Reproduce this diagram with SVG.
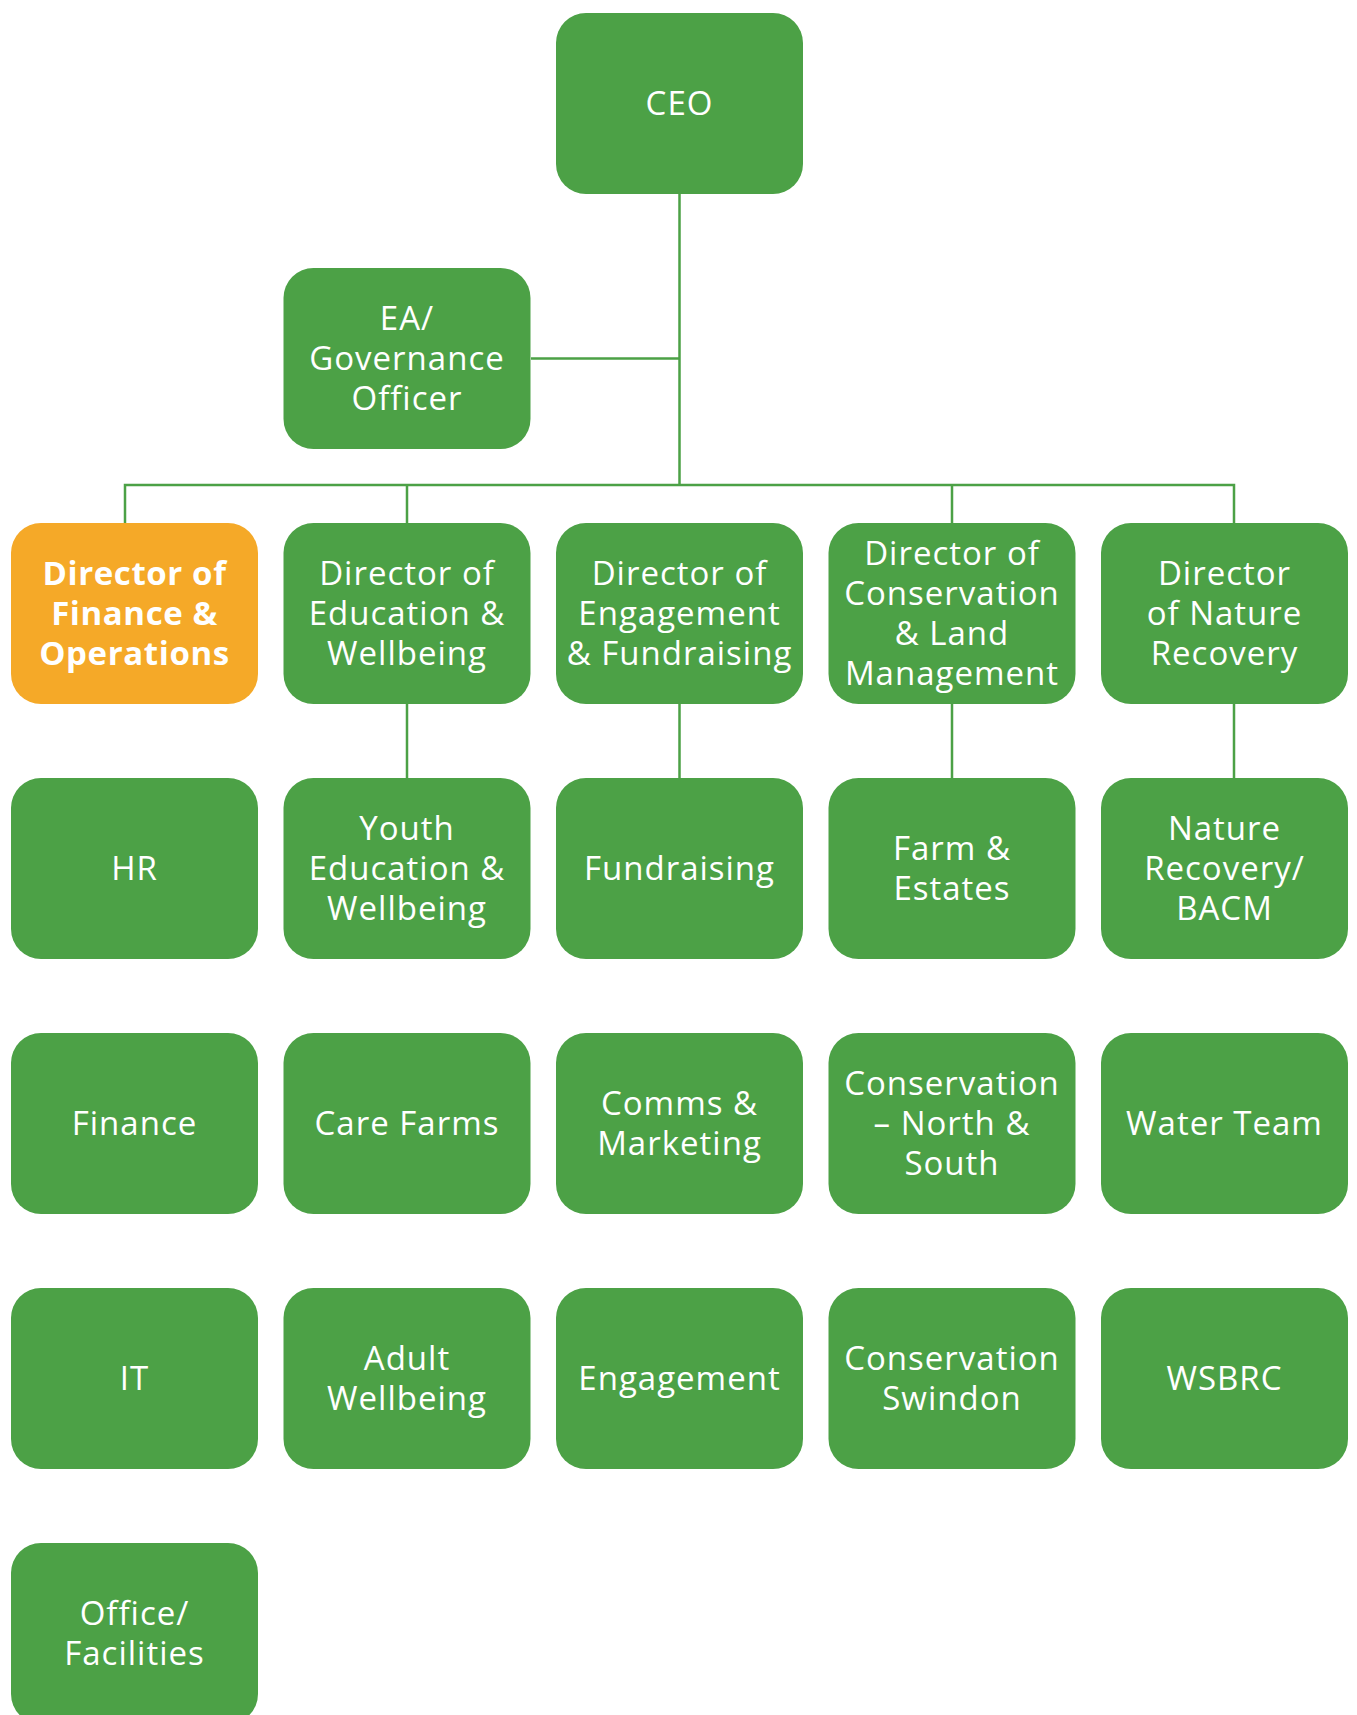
<svg xmlns="http://www.w3.org/2000/svg" width="1357" height="1715" viewBox="0 0 1357 1715">
<style>
.box{fill:#4CA146;}
.hl{fill:#F5A928;}
.t{font-family:"Open Sans","Liberation Sans",sans-serif;font-size:33px;fill:#fff;text-anchor:middle;letter-spacing:1px;}
.b{font-weight:bold;letter-spacing:0.6px;}
.ln{stroke:#4CA146;stroke-width:2.5;fill:none;}
</style>
<rect width="1357" height="1715" fill="#fff"/>
<g id="connectors">
<path class="ln" d="M679.5 193.5V485M531 358.5H679.5M125 523V485H1234V523M407 485V523M952 485V523M407 703V778M679.5 703V778M952 703V778M1234 703V778"/>
</g>
<g id="ceo"><rect class="box" x="556" y="13" width="247" height="181" rx="30"/><text class="t" x="679.5" y="115">CEO</text></g>
<g id="ea"><rect class="box" x="283.5" y="268" width="247" height="181" rx="30"/><text class="t" x="407" y="330">EA/</text><text class="t" x="407" y="370">Governance</text><text class="t" x="407" y="410">Officer</text></g>
<g id="dir-finance"><rect class="hl" x="11" y="523" width="247" height="181" rx="30"/><text class="t b" x="134.5" y="585">Director of</text><text class="t b" x="134.5" y="625">Finance &amp;</text><text class="t b" x="134.5" y="665">Operations</text></g>
<g id="dir-education"><rect class="box" x="283.5" y="523" width="247" height="181" rx="30"/><text class="t" x="407" y="585">Director of</text><text class="t" x="407" y="625">Education &amp;</text><text class="t" x="407" y="665">Wellbeing</text></g>
<g id="dir-engagement"><rect class="box" x="556" y="523" width="247" height="181" rx="30"/><text class="t" x="679.5" y="585">Director of</text><text class="t" x="679.5" y="625">Engagement</text><text class="t" x="679.5" y="665">&amp; Fundraising</text></g>
<g id="dir-conservation"><rect class="box" x="828.5" y="523" width="247" height="181" rx="30"/><text class="t" x="952" y="565">Director of</text><text class="t" x="952" y="605">Conservation</text><text class="t" x="952" y="645">&amp; Land</text><text class="t" x="952" y="685">Management</text></g>
<g id="dir-nature"><rect class="box" x="1101" y="523" width="247" height="181" rx="30"/><text class="t" x="1224.5" y="585">Director</text><text class="t" x="1224.5" y="625">of Nature</text><text class="t" x="1224.5" y="665">Recovery</text></g>
<g id="hr"><rect class="box" x="11" y="778" width="247" height="181" rx="30"/><text class="t" x="134.5" y="880">HR</text></g>
<g id="youth"><rect class="box" x="283.5" y="778" width="247" height="181" rx="30"/><text class="t" x="407" y="840">Youth</text><text class="t" x="407" y="880">Education &amp;</text><text class="t" x="407" y="920">Wellbeing</text></g>
<g id="fundraising"><rect class="box" x="556" y="778" width="247" height="181" rx="30"/><text class="t" x="679.5" y="880">Fundraising</text></g>
<g id="farm"><rect class="box" x="828.5" y="778" width="247" height="181" rx="30"/><text class="t" x="952" y="860">Farm &amp;</text><text class="t" x="952" y="900">Estates</text></g>
<g id="nature-recovery"><rect class="box" x="1101" y="778" width="247" height="181" rx="30"/><text class="t" x="1224.5" y="840">Nature</text><text class="t" x="1224.5" y="880">Recovery/</text><text class="t" x="1224.5" y="920">BACM</text></g>
<g id="finance"><rect class="box" x="11" y="1033" width="247" height="181" rx="30"/><text class="t" x="134.5" y="1135">Finance</text></g>
<g id="care-farms"><rect class="box" x="283.5" y="1033" width="247" height="181" rx="30"/><text class="t" x="407" y="1135">Care Farms</text></g>
<g id="comms"><rect class="box" x="556" y="1033" width="247" height="181" rx="30"/><text class="t" x="679.5" y="1115">Comms &amp;</text><text class="t" x="679.5" y="1155">Marketing</text></g>
<g id="cons-ns"><rect class="box" x="828.5" y="1033" width="247" height="181" rx="30"/><text class="t" x="952" y="1095">Conservation</text><text class="t" x="952" y="1135">– North &amp;</text><text class="t" x="952" y="1175">South</text></g>
<g id="water"><rect class="box" x="1101" y="1033" width="247" height="181" rx="30"/><text class="t" x="1224.5" y="1135">Water Team</text></g>
<g id="it"><rect class="box" x="11" y="1288" width="247" height="181" rx="30"/><text class="t" x="134.5" y="1390">IT</text></g>
<g id="adult"><rect class="box" x="283.5" y="1288" width="247" height="181" rx="30"/><text class="t" x="407" y="1370">Adult</text><text class="t" x="407" y="1410">Wellbeing</text></g>
<g id="engagement"><rect class="box" x="556" y="1288" width="247" height="181" rx="30"/><text class="t" x="679.5" y="1390">Engagement</text></g>
<g id="cons-swindon"><rect class="box" x="828.5" y="1288" width="247" height="181" rx="30"/><text class="t" x="952" y="1370">Conservation</text><text class="t" x="952" y="1410">Swindon</text></g>
<g id="wsbrc"><rect class="box" x="1101" y="1288" width="247" height="181" rx="30"/><text class="t" x="1224.5" y="1390">WSBRC</text></g>
<g id="office"><rect class="box" x="11" y="1543" width="247" height="181" rx="30"/><text class="t" x="134.5" y="1625">Office/</text><text class="t" x="134.5" y="1665">Facilities</text></g>
</svg>
